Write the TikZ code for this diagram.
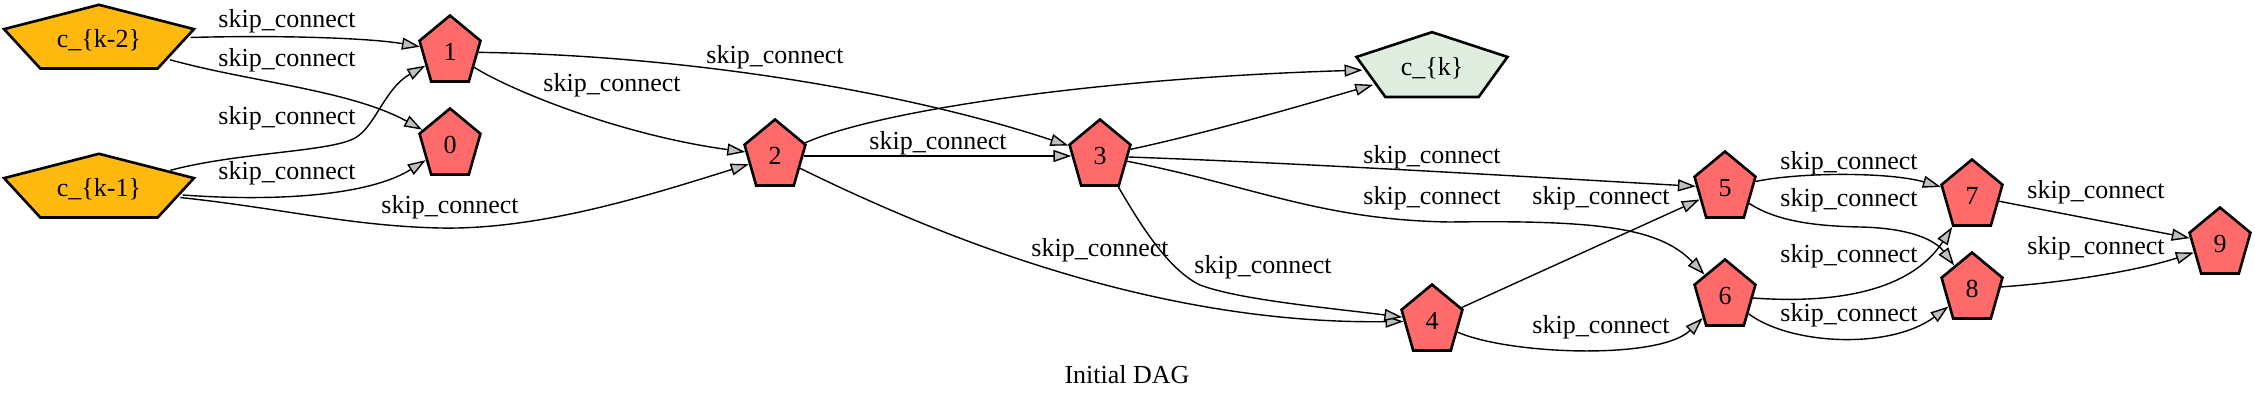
\documentclass[tikz,border=0pt]{standalone}
\usepackage{fontspec}
\setmainfont{Liberation Serif}
\usepackage{tikz}
\usetikzlibrary{shapes.geometric,arrows.meta}
\definecolor{goldcore}{HTML}{FFB90F}
\definecolor{redcore}{HTML}{FF6A6A}
\definecolor{greencore}{HTML}{E0EEE0}
\definecolor{tipgray}{HTML}{BEBEBE}

\begin{document}
\begin{tikzpicture}[x=1pt,y=-1pt]
\tikzstyle{every node}=[font=\fontsize{26}{31}\selectfont]
\tikzstyle{pent}=[regular polygon,regular polygon sides=5,minimum size=64pt,inner sep=0pt,draw,line width=2.6pt,transform shape]
\tikzstyle{mid}=[pent,fill=redcore,yscale=1.14]
\tikzstyle{inp}=[pent,fill=goldcore,xscale=3.12,yscale=1.1]
\tikzstyle{outp}=[pent,fill=greencore,xscale=2.48,yscale=1.12]
\tikzstyle{edge}=[line width=1.4pt,-{Triangle[length=18pt,width=12pt,fill=tipgray]}]
\useasboundingbox (0,0) rectangle (2255,402);

\node[inp] (ck2) at (99,40) {};
\node (ck2t) at (ck2) {c\_\{k-2\}};
\node[inp] (ck1) at (99,189) {};
\node (ck1t) at (ck1) {c\_\{k-1\}};
\node[mid] (n0) at (450,145) {};
\node (n0t) at (n0) {0};
\node[mid] (n1) at (450,52) {};
\node (n1t) at (n1) {1};
\node[mid] (n2) at (775,156) {};
\node (n2t) at (n2) {2};
\node[mid] (n3) at (1100,156) {};
\node (n3t) at (n3) {3};
\node[outp] (ck) at (1432,68) {};
\node (ckt) at (ck) {c\_\{k\}};
\node[mid] (n4) at (1432,321) {};
\node (n4t) at (n4) {4};
\node[mid] (n5) at (1725,188) {};
\node (n5t) at (n5) {5};
\node[mid] (n6) at (1725,296) {};
\node (n6t) at (n6) {6};
\node[mid] (n7) at (1972,196) {};
\node (n7t) at (n7) {7};
\node[mid] (n8) at (1972,289) {};
\node (n8t) at (n8) {8};
\node[mid] (n9) at (2220,244) {};
\node (n9t) at (n9) {9};

\draw[edge] (ck2) .. controls (280,35) and (370,38) .. (n1);
\draw[edge] (ck2) .. controls (250,82) and (350,90) .. (n0);
\draw[edge] (ck1) .. controls (240,152) and (330,152) .. (355,138) .. controls (375,127) and (385,88) .. (n1);
\draw[edge] (ck1) .. controls (280,202) and (370,195) .. (n0);
\draw[edge] (ck1) .. controls (280,208) and (350,226) .. (440,228) .. controls (540,230) and (650,195) .. (n2);
\draw[edge] (n1) .. controls (510,90) and (620,135) .. (n2);
\draw[edge] (n1) .. controls (680,55) and (900,90) .. (n3);
\draw[edge] (n2) -- (n3);
\draw[edge] (n2) .. controls (880,110) and (1100,78) .. (ck);
\draw[edge] (n3) .. controls (1220,130) and (1320,100) .. (ck);
\draw[edge] (n2) .. controls (930,232) and (1150,325) .. (n4);
\draw[edge] (n3) .. controls (1135,215) and (1165,268) .. (1200,285) .. controls (1240,300) and (1330,308) .. (n4);
\draw[edge] (n3) .. controls (1300,163) and (1550,178) .. (n5);
\draw[edge] (n3) .. controls (1250,185) and (1320,220) .. (1450,222) .. controls (1600,220) and (1660,228) .. (n6);
\draw[edge] (n4) -- (n5);
\draw[edge] (n4) .. controls (1510,355) and (1660,360) .. (n6);
\draw[edge] (n5) .. controls (1800,172) and (1890,172) .. (n7);
\draw[edge] (n5) .. controls (1775,220) and (1810,226) .. (1860,227) .. controls (1910,228) and (1935,240) .. (n8);
\draw[edge] (n6) .. controls (1850,305) and (1915,285) .. (n7);
\draw[edge] (n6) .. controls (1790,345) and (1890,350) .. (n8);
\draw[edge] (n7) -- (n9);
\draw[edge] (n8) .. controls (2070,282) and (2140,270) .. (n9);

\node (e-k2-1) at (287,21) {skip\_connect};
\node (e-k2-0) at (287,60) {skip\_connect};
\node (e-k1-1) at (287,118) {skip\_connect};
\node (e-k1-0) at (287,173) {skip\_connect};
\node (e-k1-2) at (450,207) {skip\_connect};
\node (e-1-2) at (612,85) {skip\_connect};
\node (e-1-3) at (775,57) {skip\_connect};
\node (e-2-3) at (938,143) {skip\_connect};
\node (e-2-4) at (1100,250) {skip\_connect};
\node (e-3-4) at (1263,267) {skip\_connect};
\node (e-3-5) at (1432,157) {skip\_connect};
\node (e-3-6) at (1432,198) {skip\_connect};
\node (e-4-5) at (1601,198) {skip\_connect};
\node (e-4-6) at (1601,327) {skip\_connect};
\node (e-5-7) at (1849,163) {skip\_connect};
\node (e-5-8) at (1849,200) {skip\_connect};
\node (e-6-7) at (1849,256) {skip\_connect};
\node (e-6-8) at (1849,315) {skip\_connect};
\node (e-7-9) at (2096,192) {skip\_connect};
\node (e-8-9) at (2096,248) {skip\_connect};

\node (title) at (1127,375) {Initial DAG};
\end{tikzpicture}
\end{document}
